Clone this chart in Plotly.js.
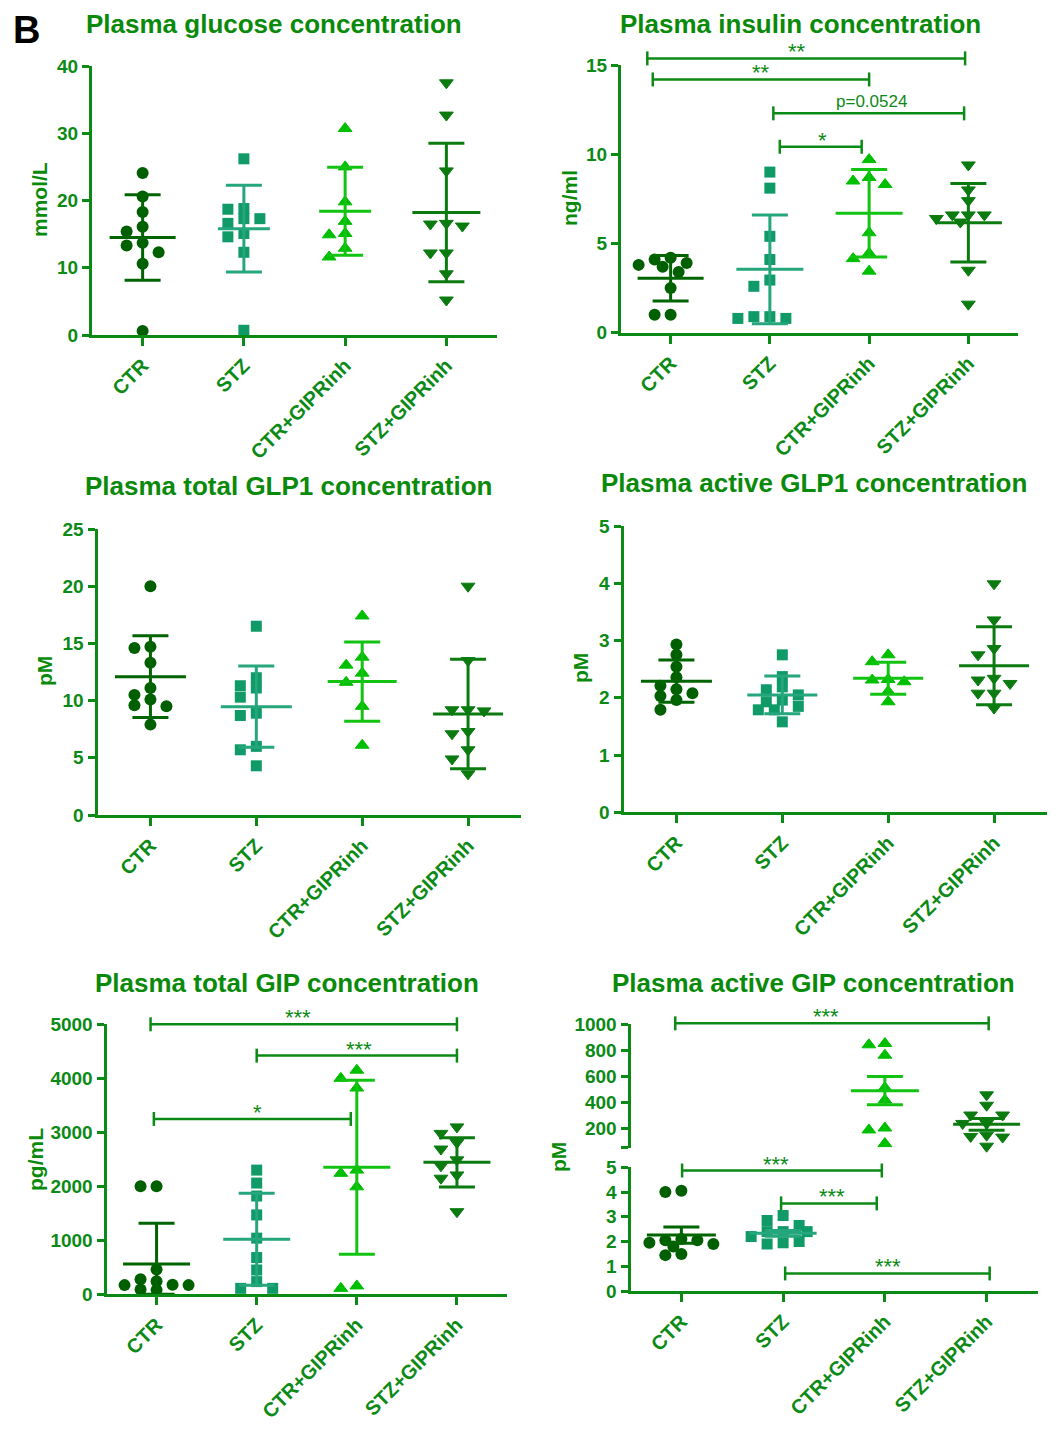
<!DOCTYPE html>
<html><head><meta charset="utf-8">
<script src="https://cdn.plot.ly/plotly-3.0.1.min.js"></script>
<style>html,body{margin:0;padding:0;background:#fff}#chart{width:1060px;height:1440px}</style>
</head><body><div id="chart"></div><script>
const groups = ['CTR', 'STZ', 'CTR+GIPRinh', 'STZ+GIPRinh'];

// Plasma glucose (mmol/L)
const glucoseCTR = [24.1, 20.6, 18.3, 16.1, 15.4, 13.7, 13.3, 12.3, 10.6, 0.6];
const glucoseSTZ = [26.2, 18.8, 18.7, 17.3, 17.3, 16.6, 15.1, 14.6, 12.3, 0.7];
const glucoseCTRGIP = [30.7, 25.0, 19.8, 16.9, 15.1, 14.9, 12.9, 11.6];
const glucoseSTZGIP = [37.5, 32.7, 24.4, 16.6, 16.5, 16.2, 12.2, 12.2, 9.1, 5.2];
const glucoseMean = [14.5, 15.8, 18.4, 18.2];
const glucoseSD = [6.35, 6.45, 6.55, 10.3];

// Plasma insulin (ng/ml)
const insulinCTR = [4.2, 4.1, 3.9, 3.8, 3.7, 3.4, 2.5, 1.0, 1.0];
const insulinSTZ = [9.0, 8.1, 5.4, 4.1, 2.95, 2.6, 0.9, 0.8, 0.8, 0.9];
const insulinCTRGIP = [9.7, 8.7, 8.5, 8.3, 5.6, 4.45, 4.15, 3.45];
const insulinSTZGIP = [9.4, 8.0, 7.4, 6.6, 6.6, 6.6, 6.4, 6.2, 3.5, 1.6];
const insulinMean = [3.05, 3.55, 6.69, 6.16];
const insulinSD = [1.28, 3.05, 2.45, 2.2];
const insulinBrackets = [[-0.235, 2.967, 15.37, '**', 1.27], [-0.18, 2.0, 14.19, '**', 0.91], [1.035, 2.957, 12.29, 'p=0.0524', 2.02], [1.10, 1.925, 10.42, '*', 1.53]];

// Plasma total GLP1 (pM)
const tglp1CTR = [20.0, 14.7, 14.6, 13.3, 11.1, 10.5, 10.1, 9.6, 9.5, 7.9];
const tglp1STZ = [16.5, 12.0, 11.3, 11.1, 10.3, 8.9, 8.7, 6.0, 5.7, 4.3];
const tglp1CTRGIP = [17.4, 13.8, 13.1, 12.4, 11.6, 9.5, 6.1];
const tglp1STZGIP = [20.0, 13.5, 9.2, 9.2, 9.1, 7.3, 7.1, 5.7, 4.9, 3.6];
const tglp1Mean = [12.09, 9.47, 11.66, 8.83];
const tglp1SD = [3.57, 3.55, 3.47, 4.78];

// Plasma active GLP1 (pM)
const aglp1CTR = [2.93, 2.75, 2.54, 2.36, 2.21, 2.15, 2.08, 2.03, 1.96, 1.79];
const aglp1STZ = [2.75, 2.37, 2.19, 2.14, 2.05, 1.96, 1.93, 1.85, 1.79, 1.79, 1.58];
const aglp1CTRGIP = [2.75, 2.63, 2.32, 2.31, 2.28, 2.11, 1.93];
const aglp1STZGIP = [3.99, 3.36, 2.86, 2.75, 2.34, 2.31, 2.25, 2.08, 2.08, 1.82];
const aglp1Mean = [2.29, 2.05, 2.34, 2.56];
const aglp1SD = [0.37, 0.33, 0.28, 0.68];

// Plasma total GIP (pg/mL)
const tgipCTR = [2000, 2000, 460, 280, 240, 175, 170, 170, 90, 80];
const tgipSTZ = [2300, 2060, 1820, 1470, 1040, 680, 450, 235, 110, 110];
const tgipCTRGIP = [4150, 4000, 3820, 2300, 2240, 1990, 155, 110];
const tgipSTZGIP = [3100, 2980, 2810, 2690, 2490, 2380, 2210, 2150, 1530];
const tgipMean = [562, 1019, 2352, 2444];
const tgipSD = [753, 851, 1610, 457];
const tgipBrackets = [[-0.06, 3.0, 5000, '***', 1.415], [1.0, 3.0, 4420, '***', 2.02], [-0.027, 1.94, 3247, '*', 1.01]];

// Plasma active GIP (pM), mean ± SEM
const agipCTR = [4.05, 4.0, 2.1, 2.05, 2.05, 1.95, 1.9, 1.8, 1.5, 1.45];
const agipSTZ = [3.05, 2.85, 2.65, 2.4, 2.4, 2.4, 2.2, 2.0, 1.95, 1.9];
const agipCTRGIP = [850, 840, 760, 510, 415, 200, 185, 80];
const agipSTZGIP = [455, 375, 300, 300, 235, 235, 145, 135, 130, 60];
const agipMean = [2.26, 2.33, 487, 228];
const agipSEM = [0.33, 0.12, 109, 45];
const agipBracketsUpper = [[-0.06, 3.02, 1005, '***', 1.42]];
const agipBracketsLower = [[0.007, 1.97, 4.87, '***', 0.93], [0.98, 1.92, 3.54, '***', 1.48], [1.02, 3.03, 0.71, '***', 2.03]];

// ---------- styling / layout ----------
const W = 1060, H = 1440;
const FONT = '"Liberation Sans", Arial, Helvetica, sans-serif';
const axisColor = '#0c8a16';
const textColor = '#0a8a0a';
const markerColors = ['#005f00', '#0f9a68', '#00bf00', '#0b7b10'];
const lineColors = ['#006400', '#25a67c', '#12c312', '#0b7b10'];
const symbols = ['circle', 'square', 'triangle-up', 'triangle-down'];
const msizes = [12, 11, 12, 12];
const mlines = [0, 0, 1, 1];

const panels = [
  {title: 'Plasma glucose concentration', ytitle: 'mmol/L', tx: 274, ty: 24, ytx: 40, yty: 200,
   x0: 92, x1: 497, segs: [{top: 66, bot: 335, range: [0, 40], dtick: 10}],
   data: [glucoseCTR, glucoseSTZ, glucoseCTRGIP, glucoseSTZGIP], mean: glucoseMean, err: glucoseSD,
   meanW: [66, 52, 52, 68], brackets: []},
  {title: 'Plasma insulin concentration', ytitle: 'ng/ml', tx: 800, ty: 24, ytx: 570, yty: 198,
   x0: 621, x1: 1018, segs: [{top: 65, bot: 332.7, range: [0, 15], dtick: 5}],
   data: [insulinCTR, insulinSTZ, insulinCTRGIP, insulinSTZGIP], mean: insulinMean, err: insulinSD,
   meanW: [66, 67, 67, 67], brackets: [[0, insulinBrackets]]},
  {title: 'Plasma total GLP1 concentration', ytitle: 'pM', tx: 288, ty: 486, ytx: 44, yty: 671,
   x0: 97.5, x1: 521, segs: [{top: 529, bot: 815, range: [0, 25], dtick: 5}],
   data: [tglp1CTR, tglp1STZ, tglp1CTRGIP, tglp1STZGIP], mean: tglp1Mean, err: tglp1SD,
   meanW: [71, 71, 69, 70], brackets: []},
  {title: 'Plasma active GLP1 concentration', ytitle: 'pM', tx: 814, ty: 483, ytx: 580, yty: 668,
   x0: 623.5, x1: 1047, segs: [{top: 526, bot: 812.3, range: [0, 5], dtick: 1}],
   data: [aglp1CTR, aglp1STZ, aglp1CTRGIP, aglp1STZGIP], mean: aglp1Mean, err: aglp1SD,
   meanW: [71, 70, 70, 70], brackets: []},
  {title: 'Plasma total GIP concentration', ytitle: 'pg/mL', tx: 287, ty: 983, ytx: 35, yty: 1160,
   x0: 106.5, x1: 507, segs: [{top: 1024.3, bot: 1294.3, range: [0, 5000], dtick: 1000}],
   data: [tgipCTR, tgipSTZ, tgipCTRGIP, tgipSTZGIP], mean: tgipMean, err: tgipSD,
   meanW: [67, 67, 67, 67], brackets: [[0, tgipBrackets]]},
  {title: 'Plasma active GIP concentration', ytitle: 'pM', tx: 813, ty: 983, ytx: 558, yty: 1157,
   x0: 630.5, x1: 1037.5,
   segs: [{top: 1167.3, bot: 1291, range: [0, 5], dtick: 1},
          {top: 1024, bot: 1147.5, range: [50, 1000], tickvals: [50, 200, 400, 600, 800, 1000], ticktext: ['', '200', '400', '600', '800', '1000']}],
   groupSeg: [0, 0, 1, 1],
   data: [agipCTR, agipSTZ, agipCTRGIP, agipSTZGIP], mean: agipMean, err: agipSEM,
   meanW: [69, 67, 68, 67], brackets: [[1, agipBracketsUpper], [0, agipBracketsLower]]}
];

function sfx(n) { return n === 1 ? '' : String(n); }
const bold = t => t === '' ? '' : '<b>' + t + '</b>';

// scatter-dot spreading computed from the values (full-symbol steps first, half steps when crowded)
const CANDIDATES = [0, -16, 16, -8, 8, -24, 24, -32, 32, -40, 40];
function swarm(values, pxPerUnitY, pxPerCat) {
  const order = values.map((v, i) => i).sort((a, b) => values[b] - values[a]);
  const placed = [], off = new Array(values.length).fill(0);
  const D = 10;
  order.forEach(i => {
    const yp = values[i] * pxPerUnitY;
    for (const xp of CANDIDATES) {
      if (placed.every(q => Math.hypot(q[0] - xp, q[1] - yp) >= D)) {
        placed.push([xp, yp]); off[i] = xp / pxPerCat; break;
      }
    }
  });
  return off;
}

const traces = [], shapes = [], annotations = [];
const layout = {
  width: W, height: H, margin: {l: 0, r: 0, t: 0, b: 0}, showlegend: false,
  paper_bgcolor: '#ffffff', plot_bgcolor: 'rgba(0,0,0,0)',
  font: {family: FONT, color: textColor}, hovermode: false
};
let extraY = panels.length;

panels.forEach((p, pi) => {
  const n = pi + 1;
  const segIds = p.segs.map((s, si) => si === 0 ? n : ++extraY);
  const pxPerCat = (p.x1 - p.x0) / 4;
  layout['xaxis' + sfx(n)] = {
    domain: [p.x0 / W, p.x1 / W], range: [-0.5, 3.5], anchor: 'y' + sfx(segIds[0]),
    showline: true, linecolor: axisColor, linewidth: 3, ticks: 'outside', ticklen: 8, tickwidth: 3,
    tickcolor: axisColor, tickmode: 'array', tickvals: [0, 1, 2, 3], ticktext: groups.map(bold), tickangle: -45,
    tickfont: {family: FONT, size: 20, color: axisColor, weight: 'bold'},
    showgrid: false, zeroline: false, fixedrange: true, automargin: false
  };
  p.segs.forEach((s, si) => {
    let tv = s.tickvals, tt = s.ticktext;
    if (!tv) {
      tv = []; for (let v = s.range[0]; v <= s.range[1] + 1e-9; v += s.dtick) tv.push(v);
      tt = tv.map(String);
    }
    layout['yaxis' + sfx(segIds[si])] = {
      domain: [1 - s.bot / H, 1 - s.top / H], range: s.range, anchor: 'x' + sfx(n),
      showline: true, linecolor: axisColor, linewidth: 3, ticks: 'outside', ticklen: 7, tickwidth: 3,
      tickcolor: axisColor, tickfont: {family: FONT, size: 19, color: axisColor, weight: 'bold'},
      tickmode: 'array', tickvals: tv, ticktext: tt.map(bold),
      showgrid: false, zeroline: false, fixedrange: true, automargin: false
    };
  });

  const segOf = g => (p.groupSeg ? p.groupSeg[g] : 0);
  // points
  p.data.forEach((vals, g) => {
    const s = p.segs[segOf(g)];
    const pxY = (s.bot - s.top) / (s.range[1] - s.range[0]);
    const off = swarm(vals, pxY, pxPerCat);
    traces.push({
      type: 'scatter', mode: 'markers', xaxis: 'x' + sfx(n), yaxis: 'y' + sfx(segIds[segOf(g)]),
      x: vals.map((v, i) => g + off[i]), y: vals, cliponaxis: false, hoverinfo: 'skip',
      marker: {symbol: symbols[g], size: msizes[g], color: markerColors[g], line: {width: mlines[g], color: markerColors[g]}}
    });
  });
  // mean line + error bars
  p.data.forEach((vals, g) => {
    const s = p.segs[segOf(g)];
    const m = p.mean[g], e = p.err[g];
    traces.push({
      type: 'scatter', mode: 'markers', xaxis: 'x' + sfx(n), yaxis: 'y' + sfx(segIds[segOf(g)]),
      x: [g], y: [m], cliponaxis: false, hoverinfo: 'skip',
      marker: {symbol: 'line-ew', size: p.meanW[g] / 1.4, color: lineColors[g], line: {width: 3, color: lineColors[g]}},
      error_y: {type: 'data', symmetric: false, array: [e], arrayminus: [Math.min(e, m - s.range[0])],
                width: 18, thickness: 3, color: lineColors[g]}
    });
  });

  // titles
  annotations.push({xref: 'paper', yref: 'paper', x: p.tx / W, y: 1 - p.ty / H, xanchor: 'center', yanchor: 'middle',
    text: bold(p.title), showarrow: false, font: {family: FONT, size: 26, color: textColor}});
  annotations.push({xref: 'paper', yref: 'paper', x: p.ytx / W, y: 1 - p.yty / H, xanchor: 'center', yanchor: 'middle',
    text: bold(p.ytitle), textangle: -90, showarrow: false, font: {family: FONT, size: 21, color: textColor}});

  // significance brackets
  p.brackets.forEach(([si, list]) => {
    const s = p.segs[si];
    const X = c => (p.x0 + (c + 0.5) / 4 * (p.x1 - p.x0)) / W;
    const Yp = v => s.bot - (v - s.range[0]) / (s.range[1] - s.range[0]) * (s.bot - s.top);
    list.forEach(b => {
      const yp = Yp(b[2]);
      const ln = {color: axisColor, width: 2.5};
      shapes.push({type: 'line', xref: 'paper', yref: 'paper', x0: X(b[0]), x1: X(b[1]), y0: 1 - yp / H, y1: 1 - yp / H, line: ln});
      [b[0], b[1]].forEach(c => shapes.push({type: 'line', xref: 'paper', yref: 'paper', x0: X(c), x1: X(c),
        y0: 1 - (yp - 7) / H, y1: 1 - (yp + 7) / H, line: ln}));
      const isP = b[3].indexOf('p') === 0;
      annotations.push({xref: 'paper', yref: 'paper', x: X(b[4]), y: 1 - yp / H, xanchor: 'center', yanchor: 'bottom',
        yshift: isP ? 0 : -8, text: b[3], showarrow: false,
        font: {family: FONT, size: isP ? 17 : 22, color: axisColor}});
    });
  });
});

annotations.push({xref: 'paper', yref: 'paper', x: 26 / W, y: 1 - 30 / H, xanchor: 'center', yanchor: 'middle',
  text: '<b>B</b>', showarrow: false, font: {family: FONT, size: 38, color: '#000000'}});

layout.shapes = shapes;
layout.annotations = annotations;
Plotly.newPlot('chart', traces, layout, {staticPlot: true, displayModeBar: false});
</script></body></html>
